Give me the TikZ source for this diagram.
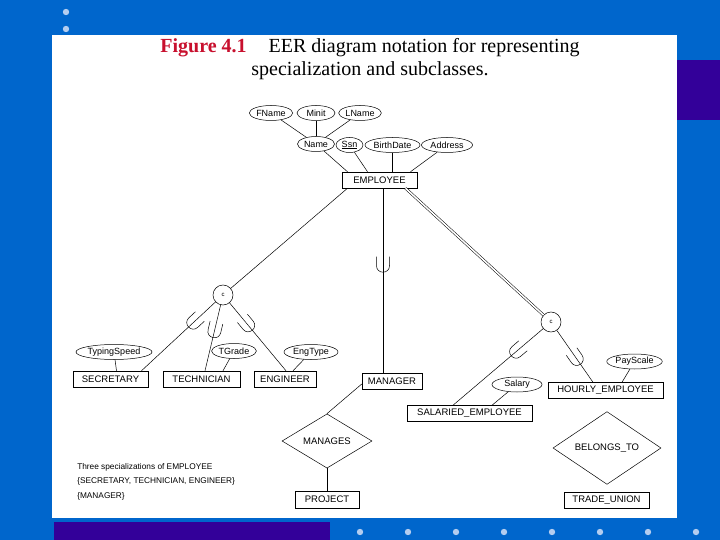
\documentclass[tikz,border=0pt]{standalone}
\usepackage{fontspec}
\setmainfont{Liberation Serif}
\setsansfont{Liberation Sans}
\usepackage{xcolor}
\usepackage{tikz}
\usetikzlibrary{shapes.geometric,positioning,calc}
\definecolor{slide}{HTML}{0066CC}
\definecolor{band}{HTML}{330099}
\definecolor{dotblue}{HTML}{B4CDF0}
\definecolor{figred}{HTML}{C8102E}
\tikzset{
  attr/.style={ellipse,draw,inner sep=0.6pt,minimum height=15pt,font=\sffamily\fontsize{9}{10}\selectfont},
  entity/.style={rectangle,draw,minimum height=15pt,inner sep=0pt,font=\sffamily\fontsize{9.5}{10}\selectfont},
  relship/.style={diamond,draw,inner sep=0pt,font=\sffamily\fontsize{9.5}{10}\selectfont},
  disj/.style={circle,draw,minimum size=20pt,inner sep=0pt,font=\sffamily\fontsize{6}{6}\selectfont},
  onsub/.style={sloped,allow upside down},
  pics/subsetmark/.style={code={\draw (-9,-6.5) -- (0,-6.5) .. controls (8.6,-6.5) and (8.6,6.5) .. (0,6.5) -- (-9,6.5);}}
}
\begin{document}
\begin{tikzpicture}[x=1pt,y=-1pt,line width=0.5pt]
\useasboundingbox (0,0) rectangle (720,540);
\fill[slide] (0,0) rectangle (720,540);
\fill[band] (677,60) rectangle (720,120);
\fill[band] (54,522) rectangle (330,540);
\fill[white] (52,35) rectangle (677,518);
\foreach \y in {12,29}{\fill[dotblue] (66,\y) circle (3.2);}
\foreach \x in {360,408,...,696}{\fill[dotblue] (\x,532) circle (3.2);}
\node[anchor=base,font=\fontsize{20}{24}\selectfont] (title1) at (370,53) {{\color{figred}\bfseries Figure 4.1}\hspace{1.1em}EER diagram notation for representing};
\node[anchor=base,font=\fontsize{20}{24}\selectfont] (title2) at (370,76) {specialization and subclasses.};
\node[attr,minimum width=40pt] (fname) at (271,113) {FName};
\node[attr,minimum width=38pt] (minit) at (316,113) {Minit};
\node[attr,minimum width=40pt] (lname) at (360,113) {LName};
\node[attr,minimum width=37pt] (name) at (316,144) {Name};
\node[attr,minimum width=27pt] (ssn) at (349.5,145) {\underline{Ssn}};
\node[attr,minimum width=55pt] (bdate) at (392.5,145) {BirthDate};
\node[attr,minimum width=51pt] (addr) at (447,145) {Address};
\node[entity,minimum width=75pt,minimum height=16pt] (emp) at (379.5,180) {EMPLOYEE};
\node[disj] (c1) at (223,295) {c};
\node[disj] (c2) at (551,322) {c};
\node[attr,minimum width=76pt] (typing) at (114,352) {TypingSpeed};
\node[attr,minimum width=42pt] (tgrade) at (234,351) {TGrade};
\node[attr,minimum width=54pt] (engtype) at (311,352) {EngType};
\node[attr,minimum width=50pt] (salary) at (517,384.5) {Salary};
\node[attr,minimum width=55pt] (payscale) at (634.5,361.5) {PayScale};
\node[entity,minimum width=75pt,minimum height=16pt] (sec) at (110.5,379) {SECRETARY};
\node[entity,minimum width=77pt,minimum height=16pt] (tech) at (201.5,379) {TECHNICIAN};
\node[entity,minimum width=62pt,minimum height=16pt] (eng) at (285,379) {ENGINEER};
\node[entity,minimum width=60pt,minimum height=16pt] (mgr) at (392,381) {MANAGER};
\node[entity,minimum width=125pt,minimum height=16pt] (sal) at (469.5,413.5) {SALARIED\_EMPLOYEE};
\node[entity,minimum width=115pt,minimum height=16pt] (hourly) at (605.5,390.5) {HOURLY\_EMPLOYEE};
\node[relship,minimum width=90pt,minimum height=40pt] (manages) at (327,441) {MANAGES};
\node[relship,minimum width=108pt,minimum height=51pt] (belongs) at (607,448) {BELONGS\_TO};
\node[entity,minimum width=64pt,minimum height=17pt] (proj) at (327,499.5) {PROJECT};
\node[entity,minimum width=85pt,minimum height=16pt] (union) at (606.5,500.5) {TRADE\_UNION};
\node[anchor=north west,align=left,inner sep=0pt,font=\sffamily\fontsize{8.3}{14.5}\selectfont] (note) at (77,463) {Three specializations of EMPLOYEE\\\{SECRETARY, TECHNICIAN, ENGINEER\}\\\{MANAGER\}};
\foreach \a in {fname,minit,lname}{\draw (\a) -- (name);}
\draw (name) -- ($(emp.north)+(-32,0)$);
\draw (ssn) -- ($(emp.north)+(-12,0)$);
\draw (bdate.south) -- (bdate.south |- emp.north);
\draw (addr) -- ($(emp.north)+(31,0)$);
\coordinate (mtop) at ($(emp.south)+(3.5,0)$);
\draw ($(emp.south)+(-32,0)$) -- (c1);
\draw (mtop) -- (mtop |- mgr.north) pic[pos=.42,onsub]{subsetmark};
\draw[double,double distance=1.6pt] ($(emp.south)+(26,0)$) -- (c2);
\draw (c1) -- ($(sec.north)+(31,0)$) pic[pos=.3,onsub]{subsetmark};
\draw (c1) -- ($(tech.north)+(3.5,0)$) pic[pos=.4,onsub]{subsetmark};
\draw (c1) -- ($(eng.north)+(1,0)$) pic[pos=.33,onsub]{subsetmark};
\draw (c2) -- ($(sal.north)+(-16.5,0)$) pic[pos=.3,onsub]{subsetmark};
\draw (c2) -- ($(hourly.north)+(-12.5,0)$) pic[pos=.55,onsub]{subsetmark};
\draw (typing) -- ($(sec.north)+(6,0)$);
\draw (tgrade) -- ($(tech.north)+(21.5,0)$);
\draw (engtype) -- ($(eng.north)+(8,0)$);
\draw (salary) -- ($(sal.north)+(22.5,0)$);
\draw (payscale) -- ($(hourly.north)+(16.5,0)$);
\draw ($(mgr.west)+(0,3)$) -- (manages.north);
\draw (manages) -- (proj);
\end{tikzpicture}
\end{document}
